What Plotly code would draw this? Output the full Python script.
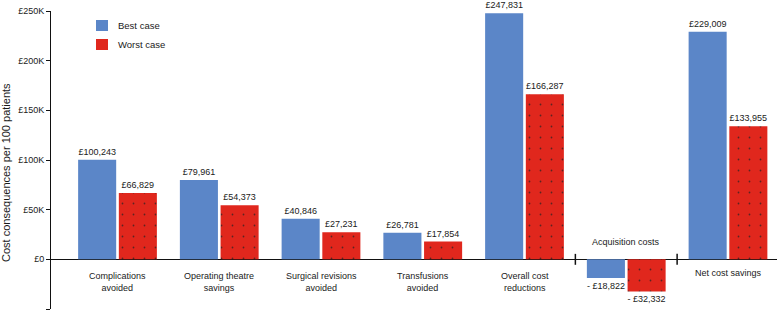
import plotly.graph_objects as go

categories = ["Complications<br>avoided", "Operating theatre<br>savings", "Surgical revisions<br>avoided",
              "Transfusions<br>avoided", "Overall cost<br>reductions", "Acquisition costs", "Net cost savings"]
series_names = ["Best case", "Worst case"]
best_case = [100243, 79961, 40846, 26781, 247831, -18822, 229009]
worst_case = [66829, 54373, 27231, 17854, 166287, -32332, 133955]
y_ticks = [-50000, 0, 50000, 100000, 150000, 200000, 250000]
y_tick_labels = ["- £50K", "£0", "£50K", "£100K", "£150K", "£200K", "£250K"]

BLUE = "#5b86c8"
RED = "#e0271d"
TXT = "#1a1a1a"
FONT = "Liberation Sans, Arial, sans-serif"

W, H = 777, 312
ML, MR, MT, MB = 51, 0, 11, 3
PW, PH = W - ML - MR, H - MT - MB

def px_x(px):
    return (px - ML) / PW

def px_y(py):
    return (H - MB - py) / PH

def fmt(v):
    return ("- £{:,}".format(-v)) if v < 0 else "£{:,}".format(v)

xs = list(range(len(categories)))

fig = go.Figure()
fig.add_trace(go.Bar(x=xs, y=best_case, name=series_names[0], marker=dict(color=BLUE, line_width=0),
                     text=[fmt(v) for v in best_case], textposition="outside",
                     textfont=dict(size=9, color=TXT), cliponaxis=False))
fig.add_trace(go.Bar(x=xs, y=worst_case, name=series_names[1],
                     marker=dict(color=RED, line_width=0,
                                 pattern=dict(shape=".", size=11, solidity=0.02, fgcolor="#222", fgopacity=0.7)),
                     text=[fmt(v) for v in worst_case], textposition="outside",
                     textfont=dict(size=9, color=TXT), cliponaxis=False))

annotations = []
for i, c in enumerate(categories):
    if i == 5:
        yv = 17100
    elif i == 6:
        yv = -14100
    else:
        yv = -22700
    annotations.append(dict(x=i, y=yv, text=c, showarrow=False, xref="x", yref="y",
                            font=dict(size=9, color=TXT), yanchor="middle"))
annotations.append(dict(x=px_x(6), y=px_y(173), xref="paper", yref="paper",
                        text="Cost consequences per 100 patients",
                        textangle=-90, showarrow=False, font=dict(size=11, color=TXT),
                        xanchor="center", yanchor="middle"))

shapes = []
for sep in [4.5, 5.5]:
    shapes.append(dict(type="line", x0=sep, x1=sep, y0=-5500, y1=5500, xref="x", yref="y",
                       line=dict(color="#111", width=1.5)))

# legend (drawn manually to match the reference spacing)
for name, col, top in [(series_names[0], BLUE, 20), (series_names[1], RED, 39)]:
    shapes.append(dict(type="rect", xref="paper", yref="paper",
                       x0=px_x(96), x1=px_x(108), y0=px_y(top + 11), y1=px_y(top),
                       fillcolor=col, line_width=0))
    annotations.append(dict(x=px_x(116), y=px_y(top + 5.5), xref="paper", yref="paper", text=name,
                            showarrow=False, xanchor="left", yanchor="middle",
                            font=dict(size=9.5, color=TXT)))

fig.update_layout(
    width=W, height=H,
    margin=dict(l=ML, r=MR, t=MT, b=MB),
    paper_bgcolor="white", plot_bgcolor="white",
    font=dict(family=FONT, size=9, color=TXT),
    barmode="group", bargap=0.2, bargroupgap=0.065,
    showlegend=False,
    annotations=annotations, shapes=shapes,
)
fig.update_xaxes(range=[-0.6536, 6.4816], showticklabels=False, ticks="", showgrid=False,
                 zeroline=False, showline=False)
fig.update_yaxes(range=[-50000, 250000], tickvals=y_ticks, ticktext=y_tick_labels, showgrid=False,
                 zeroline=True, zerolinecolor="#111", zerolinewidth=1,
                 showline=True, linecolor="#111", linewidth=1, ticks="outside", ticklen=4,
                 tickcolor="#111", tickfont=dict(size=9, color=TXT))

fig.write_html("out.html", config={"displayModeBar": False},
               post_script="document.body.style.margin='0';document.body.style.overflow='hidden';")
